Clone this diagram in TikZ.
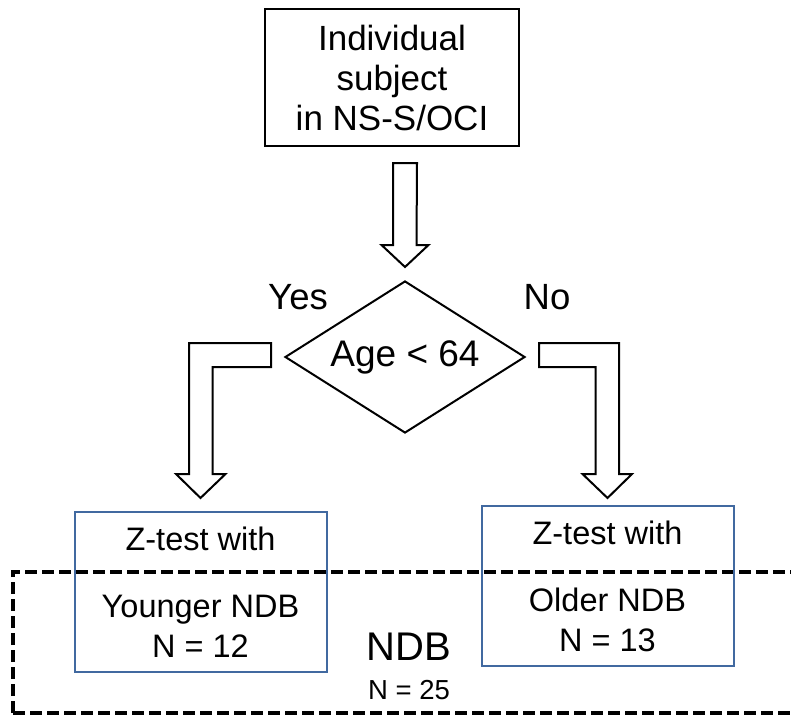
\documentclass[tikz,border=0pt]{standalone}
\usepackage{fontspec}
\setmainfont{Liberation Sans}
\usepackage{tikz}
\usetikzlibrary{shapes.geometric,   % losange
           calc,                    % calculs de coordonnees
           positioning}
\definecolor{bleu}{RGB}{65,105,160}
\newcommand{\fsz}[2][40]{\fontsize{#2}{#1}\selectfont}

\begin{document}
\begin{tikzpicture}[x=1pt,y=-1pt,
  boite/.style={draw, line width=2pt, align=center, inner sep=0pt},
  bloc/.style={draw, line width=2pt, fill=white, line join=miter},
  zbox/.style={draw=bleu, line width=2pt, align=center, inner sep=0pt,
               minimum width=252pt, minimum height=160pt, font=\fsz{32.5}}]
\clip (0,0) rectangle (791,715);
% cadre NDB en pointilles
\draw[line width=3.5pt, dash pattern=on 12pt off 5pt] (13,713) -- (13,572) -- (800,572);
\draw[line width=3.5pt, dash pattern=on 12pt off 5pt] (13,713) -- (800,713);
\node[boite, minimum width=254pt, minimum height=137pt, font=\fsz{35}] (sujet) at (392,77.5)
  {Individual\\ subject\\ in NS-S/OCI};
\node[draw, diamond, line width=2pt, aspect=1.6, inner sep=0pt, font=\fsz{37},
  minimum width=240pt, minimum height=152pt] (age) at (405,357) {Age < 64};
\node[font=\fsz{36.5}] (oui) at (298,297) {Yes};
\node[font=\fsz{36.5}] (non) at (547,297) {No};
\node[zbox] (jeune) at (200.5,592)
  {Z-test with\\[27pt] Younger NDB\\[0pt] N = 12};
\node[zbox] (vieux) at (607.5,586)
  {Z-test with\\[27pt] Older NDB\\[0pt] N = 13};
\node[font=\fsz{40}] (ndb) at (409,647) {NDB};
\node[font=\fsz{27.5}] (ntot) at (409,690) {N = 25};
% fleche du haut
\draw[bloc] ($(sujet.south -| age.north)+(-12,16)$) -- ($(age.north)+(-12,-35)$)
  -- ++(-11.5,0) -- ($(age.north)+(0,-13)$) -- ++(23.5,-22) -- ++(-12,0)
  -- ($(sujet.south -| age.north)+(12,16)$) -- cycle;
% fleches coudees
\path ($(age.south)+(0,64)$) coordinate (pointe);
\foreach \c/\b/\u in {west/jeune/-1,east/vieux/1}{
\pgfmathsetmacro\dep{13*\u}
\pgfmathsetmacro\ext{11.5*\u}
\pgfmathsetmacro\tete{13*\u}
\pgfmathsetmacro\larg{-25*\u}
\pgfmathsetmacro\ret{13*\u}
\draw[bloc] ($(age.\c)+(\dep,-14)$) -| ($(pointe -| \b.north)+(\ext,-24)$)
  -- ++(\tete,0) -- (pointe -| \b.north) -- ++(\larg,-24) -- ++(\ret,0)
  |- ($(age.\c)+(\dep,10)$) -- cycle;}
\end{tikzpicture}
\end{document}
